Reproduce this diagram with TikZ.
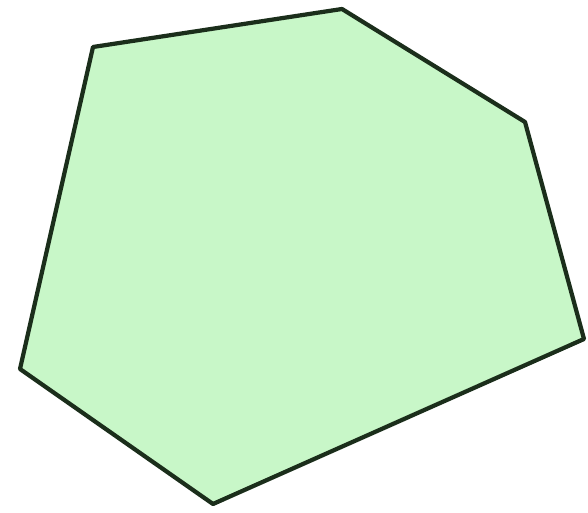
\documentclass[tikz,border=0pt]{standalone}
\usepackage{tikz}
\definecolor{paleGreen}{HTML}{C8F7C8}
\definecolor{edgeDark}{HTML}{1B2E1B}
\begin{document}
\begin{tikzpicture}[x=0.01cm,y=-0.01cm]
        \tikzset{PolyStyle/.style={draw=edgeDark, fill=paleGreen, line width=1.2pt, line join=round}}
        \useasboundingbox (0,0) rectangle (588,513);
        \coordinate (A) at (93,47);
        \coordinate (B) at (342,9);
        \coordinate (C) at (525,122);
        \coordinate (D) at (584,339);
        \coordinate (E) at (213,504);
        \coordinate (F) at (20,369);
        \draw[PolyStyle] (A) -- (B) -- (C) -- (D) -- (E) -- (F) -- cycle;
    \end{tikzpicture}
\end{document}
